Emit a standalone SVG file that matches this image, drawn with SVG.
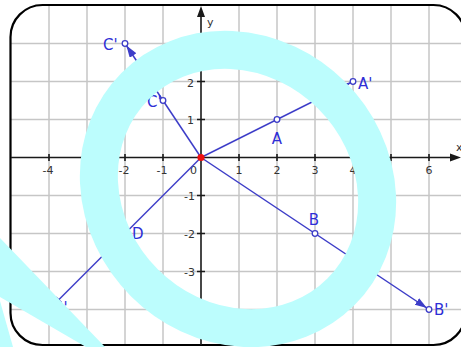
<svg xmlns="http://www.w3.org/2000/svg" width="461" height="347" viewBox="0 0 461 347">
<defs>
<clipPath id="frame"><rect x="10.5" y="5" width="455" height="340" rx="32"/></clipPath>
<marker id="arr" markerUnits="userSpaceOnUse" markerWidth="16" markerHeight="10" refX="14.5" refY="4" orient="auto"><path d="M0,0 L12,4 L0,8 Z" fill="#3d3dc8"/></marker>
<style>
.grid{stroke:#c6c6c6;stroke-width:1.5;fill:none}
.axis{stroke:#1a1a1a;stroke-width:1.6;fill:none}
.tk{font-family:"DejaVu Sans",Verdana,sans-serif;font-size:11px;fill:#333}
.vec{stroke:#3d3dc8;stroke-width:1.5;fill:none}
.pt{fill:#fff;stroke:#3d3dc8;stroke-width:1.3}
.lbl{font-family:"DejaVu Sans",Verdana,sans-serif;font-size:15px;fill:#2e2ed6}
.hl{fill:#bcfdfd}
</style>
</defs>
<rect width="461" height="347" fill="#fff"/>
<g id="grid" clip-path="url(#frame)">
<path class="grid" d="M49,0V347M87,0V347M125,0V347M163,0V347M239,0V347M277,0V347M315,0V347M353,0V347M391,0V347M429,0V347M0,43.5H461M0,81.5H461M0,119.5H461M0,195.5H461M0,233.5H461M0,271.5H461M0,309.5H461"/>
</g>
<rect x="10.5" y="5" width="455" height="340" rx="32" fill="none" stroke="#000" stroke-width="2.2"/>
<g id="axes">
<path class="axis" d="M11,157.5H452M201,345V15"/>
<path d="M461,157.5L450,153.5L450,161.5Z M201,6L197,17L205,17Z" fill="#1a1a1a"/>
<path class="axis" stroke-width="1.3" d="M49,154V161M87,154V161M125,154V161M163,154V161M239,154V161M277,154V161M315,154V161M353,154V161M391,154V161M429,154V161M197,43.5H205M197,81.5H205M197,119.5H205M197,195.5H205M197,233.5H205M197,271.5H205M197,309.5H205"/>
<text class="tk" x="456" y="151" font-size="12">x</text>
<text class="tk" x="207" y="26" font-size="12">y</text>
<g text-anchor="middle">
<text class="tk" x="48" y="174">-4</text>
<text class="tk" x="124" y="174">-2</text>
<text class="tk" x="162" y="174">-1</text>
<text class="tk" x="193.5" y="174">0</text>
<text class="tk" x="239" y="174">1</text>
<text class="tk" x="277" y="174">2</text>
<text class="tk" x="315" y="174">3</text>
<text class="tk" x="353" y="174">4</text>
<text class="tk" x="429" y="174">6</text>
</g>
<g text-anchor="end">
<text class="tk" x="194" y="86.5">2</text>
<text class="tk" x="194" y="124">1</text>
<text class="tk" x="195" y="200">-1</text>
<text class="tk" x="195" y="238">-2</text>
<text class="tk" x="195" y="276">-3</text>
</g>
</g>
<g id="connectors">
<path class="vec" marker-end="url(#arr)" d="M201,157.5L125,43.5"/>
<path class="vec" marker-end="url(#arr)" d="M201,157.5L353,81.5"/>
<path class="vec" marker-end="url(#arr)" d="M201,157.5L429,309.5"/>
<path class="vec" marker-end="url(#arr)" d="M201,157.5L49,309.5"/>
</g>
<g id="A"><circle class="pt" cx="277" cy="119.5" r="2.8"/><text class="lbl" x="277" y="144" text-anchor="middle">A</text></g>
<g id="A1"><circle class="pt" cx="353" cy="81.5" r="2.8"/><text class="lbl" x="358" y="89">A'</text></g>
<g id="B"><circle class="pt" cx="315" cy="233.5" r="2.8"/><text class="lbl" x="314" y="225" text-anchor="middle">B</text></g>
<g id="B1"><circle class="pt" cx="429" cy="309.5" r="2.8"/><text class="lbl" x="434" y="315">B'</text></g>
<g id="C"><circle class="pt" cx="163" cy="100.5" r="2.8"/><text class="lbl" x="147" y="107">C'</text></g>
<g id="C1"><circle class="pt" cx="125" cy="43.5" r="2.8"/><text class="lbl" x="103" y="50">C'</text></g>
<g id="D"><circle class="pt" cx="125" cy="233.5" r="2.8"/><text class="lbl" x="132" y="239">D</text></g>
<g id="D1"><circle class="pt" cx="49" cy="309.5" r="2.8"/><text class="lbl" x="52" y="313">D'</text></g>
<g id="O"><circle cx="201" cy="157.5" r="3.6" fill="#ee1111"/></g>
<g id="highlight">
<ellipse cx="238" cy="189" rx="145.5" ry="132.5" transform="rotate(45 238 189)" fill="none" stroke="#bcfdfd" stroke-width="38"/>
<path class="hl" d="M0,238L105,347L86,347L0,297Z M0,301L13,347L0,347Z"/>
</g>
</svg>
